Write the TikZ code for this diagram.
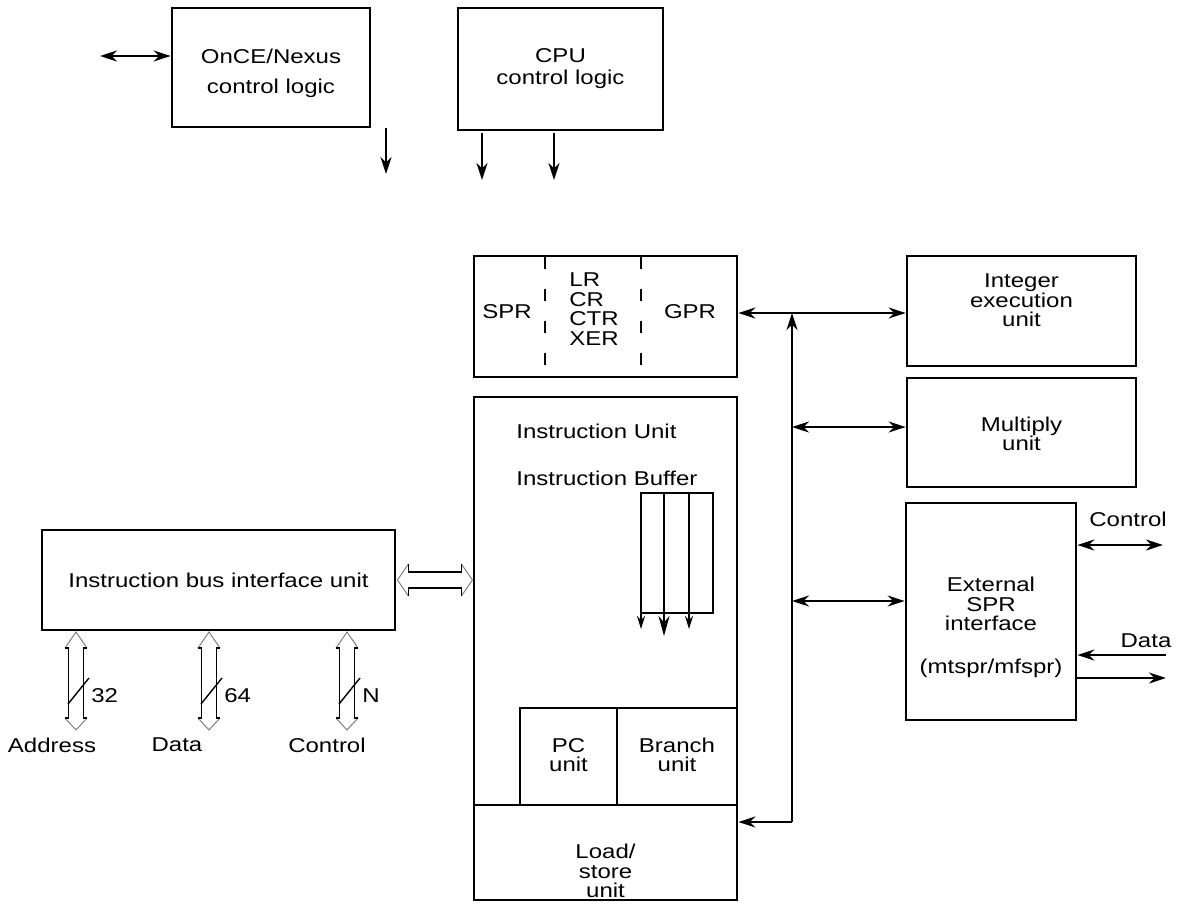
\documentclass[tikz,border=0pt]{standalone}
\usepackage{fontspec}
\setmainfont{Liberation Sans}[FakeStretch=1.2]
\usetikzlibrary{arrows.meta}

\tikzset{
  blk/.style={draw, line width=1.4pt, inner sep=0pt},
  txt/.style={align=center, inner sep=0pt, font=\fontsize{10}{9.75}\selectfont},
  ln/.style={line width=1.2pt},
  sarr/.style={ln, -{Stealth[length=8.5pt, width=5.5pt]}},
  dbl/.style={ln, {Stealth[length=8.5pt, width=5.5pt]}-{Stealth[length=8.5pt, width=5.5pt]}},
  hd/.style={gray, line width=0.5pt},
  sh/.style={black, line width=0.7pt},
  % hollow bus arrow, pointing up and down, with a width mark
  vbus/.pic={
    \draw[hd] (-11,16) -- (0,0) -- (11,16) (-11,86) -- (0,98) -- (11,86);
    \draw[sh] (-11,16) -- (-7.5,16) -- (-7.5,86) -- (-11,86)
              (11,16) -- (7.5,16) -- (7.5,86) -- (11,86);
    \draw[sh] (-8,72) -- (13,46);
    \node[txt, anchor=west] (-w) at (15,64) {#1};
  },
  hbus/.pic={
    \draw[hd] (11,-16) -- (0,0) -- (11,16) (64,-16) -- (75,0) -- (64,16);
    \draw[sh] (11,-16) -- (11,-8) -- (64,-8) -- (64,-16)
              (11,16) -- (11,8) -- (64,8) -- (64,16);
  }
}

\begin{document}
\begin{tikzpicture}[x=0.5pt, y=-0.5pt]
  \useasboundingbox (0,0) rectangle (1183,911);

  % control logic
  \node[blk, minimum width=99pt, minimum height=59.5pt] (once) at (271,67.5) {};
  \node[txt] (oncet) at (271,73) {OnCE/Nexus\\[5.25pt]control logic};
  \node[blk, minimum width=102.5pt, minimum height=61pt] (cpu) at (560.5,69) {};
  \node[txt] (cput) at (560.5,69) {CPU\\[1.25pt]control logic};

  \coordinate (oncel) at (100,56);
  \draw[dbl] (oncel) -- (once.west |- oncel);
  \coordinate (o1) at (386,174);
  \coordinate (c1) at (482,180);
  \coordinate (c2) at (554,180);
  \draw[sarr] (once.south -| o1) -- (o1);
  \draw[sarr] ([yshift=-1pt]cpu.south -| c1) -- (c1);
  \draw[sarr] ([yshift=-1pt]cpu.south -| c2) -- (c2);

  % registers
  \node[blk, minimum width=131.5pt, minimum height=60.5pt] (reg) at (605.5,316.5) {};
  \draw[line width=1.2pt, dash pattern=on 6pt off 10pt, dash phase=-1pt]
    (reg.north -| 545,0) -- (reg.south -| 545,0)
    (reg.north -| 641,0) -- (reg.south -| 641,0);
  \node[txt] (spr) at (507,312) {SPR};
  \node[txt, align=left, anchor=west] (lr) at (569,309) {LR\\CR\\CTR\\XER};
  \node[txt] (gpr) at (690,312) {GPR};

  % instruction unit
  \node[blk, minimum width=131.5pt, minimum height=251.5pt] (iu) at (605.5,648.5) {};
  \node[txt, anchor=west] (iut) at (516,431) {Instruction Unit};
  \node[txt, anchor=west] (ibt) at (516,478) {Instruction Buffer};
  \node[blk, line width=1.2pt, minimum width=36pt, minimum height=60pt] (buf) at (677,553) {};
  \coordinate (b1) at (641,629);
  \coordinate (b2) at (664,636);
  \coordinate (b3) at (689,629);
  \draw[ln, -{Stealth[length=6.5pt, width=4pt]}] (buf.north -| b1) -- (b1);
  \draw[ln, -{Stealth[length=10pt, width=5.5pt]}] (buf.north -| b2) -- (b2);
  \draw[ln, -{Stealth[length=6.5pt, width=4pt]}] (buf.north -| b3) -- (b3);
  \node[blk, minimum width=48.5pt, minimum height=48.5pt] (pc) at (568.5,756.5) {};
  \node[txt] (pct) at (568.5,755) {PC\\unit};
  \node[blk, minimum width=60pt, minimum height=48.5pt] (br) at (677,756.5) {};
  \node[txt] (brt) at (677,755) {Branch\\unit};
  \node[blk, minimum width=131.5pt, minimum height=47.5pt] (ls) at (605.5,852.5) {};
  \node[txt] (lst) at (605.5,871) {Load/\\store\\unit};

  % execution side
  \node[blk, minimum width=114.5pt, minimum height=55pt] (int) at (1021.5,311) {};
  \node[txt] (intt) at (1021.5,300.5) {Integer\\execution\\unit};
  \node[blk, minimum width=114.5pt, minimum height=54.5pt] (mul) at (1021.5,432.5) {};
  \node[txt] (mult) at (1021.5,434) {Multiply\\unit};
  \node[blk, minimum width=85pt, minimum height=108.5pt] (ext) at (991,611.5) {};
  \node[txt] (extt) at (991,604) {External\\SPR\\interface};
  \node[txt] (extm) at (991,668) {(mtspr/mfspr)};

  % internal bus
  \coordinate (bt) at (792,313);
  \coordinate (bb) at (792,822);
  \coordinate (bm) at (792,427);
  \coordinate (be) at (792,601);
  \draw[sarr] (bb) -- (bt);
  \draw[dbl] (reg.east |- bt) -- (int.west |- bt);
  \draw[sarr] (bb) -- (ls.east |- bb);
  \draw[dbl] (bm) -- (mul.west |- bm);
  \draw[dbl] (be) -- (ext.west |- be);

  % external SPR signals
  \coordinate (ctl) at (1163,545);
  \coordinate (din) at (1166,655);
  \coordinate (dout) at (1166,678);
  \draw[dbl] (ext.east |- ctl) -- (ctl);
  \draw[sarr] (din) -- (ext.east |- din);
  \draw[sarr] (ext.east |- dout) -- (dout);
  \node[txt] (ctlt) at (1128,519) {Control};
  \node[txt] (dint) at (1146,641) {Data};

  % instruction bus interface
  \node[blk, minimum width=176.5pt, minimum height=50pt] (ibiu) at (218.5,580) {};
  \node[txt] (ibiut) at (218.5,580) {Instruction bus interface unit};
  \pic (hb) at ([xshift=0.5pt]ibiu.east) {hbus};
  \pic (ab) at (76,632) {vbus=32};
  \pic (db) at (209,632) {vbus=64};
  \pic (cb) at (347,632) {vbus=N};
  \node[txt] (addr) at (52,745) {Address};
  \node[txt] (data) at (177,745) {Data};
  \node[txt] (ctrl) at (327,745) {Control};
\end{tikzpicture}
\end{document}
